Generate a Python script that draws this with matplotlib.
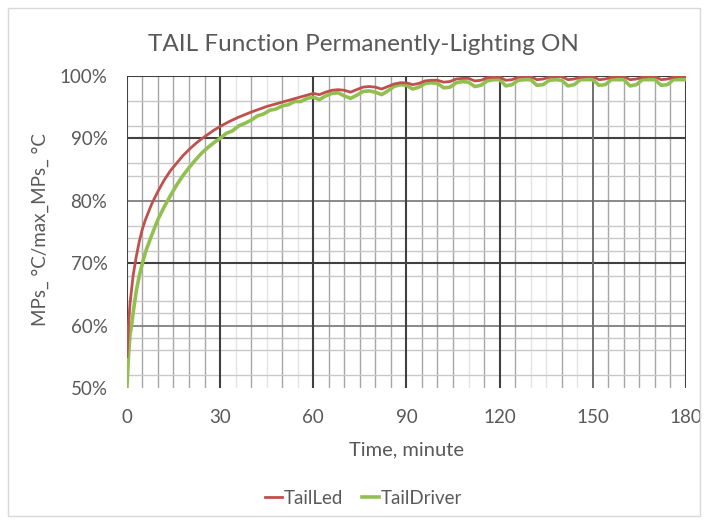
import matplotlib
matplotlib.use("Agg")
import matplotlib.pyplot as plt
from matplotlib.patches import Rectangle

plt.rcParams["font.family"] = ["Lato", "DejaVu Sans"]

# TailLed: time (minute) vs MPs °C / max MPs °C (%)
led_t = [0, 0.5, 1, 2, 3, 4, 5, 6, 8, 10, 12, 14, 16, 18, 20, 22, 24, 26, 28,
         30, 33, 36, 40, 45, 50, 55, 60, 62, 64, 66, 68, 70, 72, 74, 76, 78,
         80, 82, 84, 86, 88, 90, 92, 94, 96, 98, 100, 102, 104, 106, 108, 110,
         112, 114, 116, 118, 120, 122, 124, 126, 128, 130, 132, 134, 136, 138,
         140, 142, 144, 146, 148, 150, 152, 154, 156, 158, 160, 162, 164, 166,
         168, 170, 172, 174, 176, 178, 180]
led_v = [55.0, 60.0, 63.5, 68.0, 71.0, 73.5, 75.5, 77.0, 79.5, 81.5, 83.3, 84.8,
         86.0, 87.2, 88.2, 89.1, 89.9, 90.6, 91.3, 91.9, 92.7, 93.4, 94.2, 95.1,
         95.8, 96.5, 97.2, 97.0, 97.4, 97.7, 97.8, 97.7, 97.4, 97.8, 98.2, 98.3,
         98.2, 97.9, 98.3, 98.7, 98.9, 98.9, 98.6, 98.8, 99.2, 99.3, 99.3, 99.0,
         99.1, 99.5, 99.6, 99.6, 99.2, 99.3, 99.7, 99.8, 99.8, 99.3, 99.4, 99.8,
         99.9, 99.9, 99.4, 99.5, 99.8, 99.9, 99.9, 99.4, 99.5, 99.8, 99.9, 99.9,
         99.4, 99.5, 99.8, 99.9, 99.9, 99.4, 99.5, 99.8, 99.9, 99.9, 99.4, 99.5,
         99.8, 99.9, 99.9]

# TailDriver
drv_t = [0, 0.5, 1, 1.5, 2, 3, 4, 5, 6, 8, 10, 12, 14, 16, 18, 20, 22, 24, 26,
         28, 30, 32, 34, 36, 38, 40, 42, 44, 46, 48, 50, 52, 54, 56, 58, 60, 62,
         64, 66, 68, 70, 72, 74, 76, 78, 80, 82, 84, 86, 88, 90, 92, 94, 96, 98,
         100, 102, 104, 106, 108, 110, 112, 114, 116, 118, 120, 122, 124, 126,
         128, 130, 132, 134, 136, 138, 140, 142, 144, 146, 148, 150, 152, 154,
         156, 158, 160, 162, 164, 166, 168, 170, 172, 174, 176, 178, 180]
drv_v = [50.0, 55.0, 58.5, 60.0, 62.0, 65.5, 68.0, 70.0, 71.8, 74.5, 77.0, 79.0,
         80.8, 82.5, 84.0, 85.3, 86.5, 87.6, 88.5, 89.3, 90.0, 90.8, 91.2, 92.0,
         92.4, 92.9, 93.6, 93.9, 94.5, 94.7, 95.2, 95.4, 95.9, 95.9, 96.4, 96.6,
         96.2, 96.8, 97.2, 97.3, 96.8, 96.4, 96.9, 97.5, 97.6, 97.4, 97.0, 97.6,
         98.3, 98.6, 98.5, 97.9, 98.2, 98.8, 98.9, 98.8, 98.1, 98.2, 98.9, 99.1,
         99.0, 98.3, 98.5, 99.2, 99.4, 99.4, 98.4, 98.6, 99.3, 99.4, 99.4, 98.5,
         98.6, 99.3, 99.4, 99.3, 98.4, 98.6, 99.4, 99.4, 99.4, 98.5, 98.6, 99.4,
         99.4, 99.4, 98.4, 98.6, 99.4, 99.4, 99.4, 98.5, 98.6, 99.4, 99.4, 99.4]

x_ticks = [0, 30, 60, 90, 120, 150, 180]
y_ticks = [50, 60, 70, 80, 90, 100]

TEXT = "#595959"
RED = "#C0504D"
GREEN = "#92C050"

fig = plt.figure(figsize=(7.05, 5.2), dpi=100)
fig.patches.append(Rectangle((0.011, 0.008), 0.982, 0.977, transform=fig.transFigure,
                             fill=False, edgecolor="#D9D9D9", lw=1))
ax = fig.add_axes([0.180, 0.254, 0.793, 0.600])

# grid: dark majors, mid-grey and faint minors
for x in [5, 10, 15, 20, 25, 40, 50, 65, 70, 75, 80, 85, 95, 100, 105, 115, 125,
          140, 155, 160, 165, 170, 175]:
    ax.axvline(x, color="#A6A6A6", lw=1.0, zorder=1)
for x in [35, 45, 55, 110, 130, 135, 145]:
    ax.axvline(x, color="#E4E4E4", lw=1.0, zorder=1)
for y in [52, 56, 58, 62, 64, 68, 72, 74, 76, 84, 86, 92, 96]:
    ax.axhline(y, color="#C8C8C8", lw=1.0, zorder=1)
for y in [60, 80]:
    ax.axhline(y, color="#7F7F7F", lw=1.3, zorder=1)
for y in [70, 90, 100]:
    ax.axhline(y, color="#404040", lw=1.5, zorder=1)
for x in [0, 30, 60, 90, 120, 180]:
    ax.axvline(x, color="#404040", lw=1.5, zorder=1)
ax.axvline(150, color="#707070", lw=1.4, zorder=1)

ax.plot(drv_t, drv_v, color=GREEN, lw=2.6, label="TailDriver", zorder=3)
ax.plot(led_t, led_v, color=RED, lw=2.0, label="TailLed", zorder=4)

ax.set_xlim(0, 180)
ax.set_ylim(50, 100)
ax.set_xticks(x_ticks)
ax.set_yticks(y_ticks)
ax.set_yticklabels([f"{v}%" for v in y_ticks])
ax.tick_params(length=0, labelsize=13.5, labelcolor=TEXT)
ax.tick_params(axis="x", pad=15)
ax.tick_params(axis="y", pad=14)
for s in ax.spines.values():
    s.set_visible(False)

fig.text(0.516, 0.915, "TAIL Function Permanently-Lighting ON", fontsize=17.5,
         color=TEXT, ha="center", va="center")
ax.set_xlabel("Time, minute", fontsize=14.5, color=TEXT, labelpad=11)
fig.text(0.057, 0.558, "MPs_ °C/max_MPs_ °C", fontsize=13.5, color=TEXT,
         rotation=90, ha="center", va="center")

h, l = ax.get_legend_handles_labels()
fig.legend(h[::-1], l[::-1], loc="center", bbox_to_anchor=(0.516, 0.042), ncol=2,
           frameon=False, fontsize=13.5, labelcolor=TEXT, handlelength=0.9,
           handletextpad=0.1, columnspacing=1.0)

fig.savefig("out.png", dpi=100)
